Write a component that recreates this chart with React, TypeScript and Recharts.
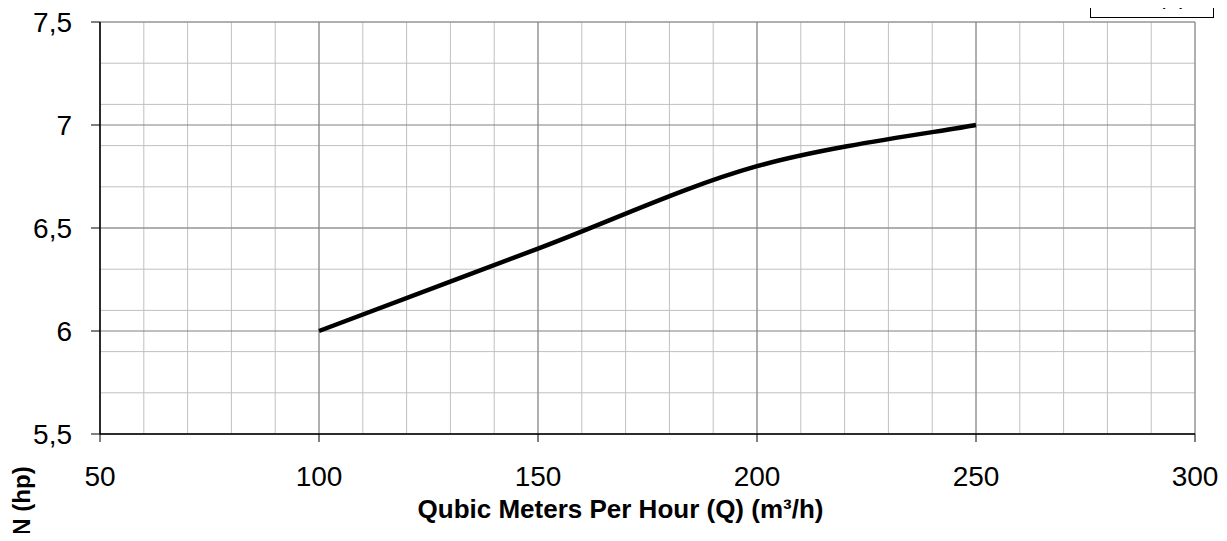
import { LineChart, Line, XAxis, YAxis, CartesianGrid } from "recharts";

// pump curve: shaft power vs flow
const flowRates = [100, 150, 200, 250];
const powerHp = [6.0, 6.4, 6.8, 7.0];

const xMajorTicks = [50, 100, 150, 200, 250, 300];
const xMinorTicks = [50, 60, 70, 80, 90, 100, 110, 120, 130, 140, 150, 160, 170, 180, 190, 200, 210, 220, 230, 240, 250, 260, 270, 280, 290, 300];
const yMajorTicks = [5.5, 6, 6.5, 7, 7.5];
const yMinorTicks = [5.5, 5.6, 5.7, 5.8, 5.9, 6, 6.1, 6.2, 6.3, 6.4, 6.5, 6.6, 6.7, 6.8, 6.9, 7, 7.1, 7.2, 7.3, 7.4, 7.5];

const data = flowRates.map((q, i) => ({ q, n: powerHp[i] }));

const FONT = "Arial, 'Liberation Sans', sans-serif";

const fmtComma = (v: number) => String(v).replace(".", ",");

// excel-style smoothed line (catmull-rom, control points at 1/6)
const excelSmooth = (context: any) => {
  let pts: number[][] = [];
  return {
    areaStart() {},
    areaEnd() {},
    lineStart() {
      pts = [];
    },
    point(x: number, y: number) {
      pts.push([+x, +y]);
    },
    lineEnd() {
      if (!pts.length) return;
      context.moveTo(pts[0][0], pts[0][1]);
      for (let i = 0; i < pts.length - 1; i++) {
        const p0 = pts[i - 1] || pts[i];
        const p1 = pts[i];
        const p2 = pts[i + 1];
        const p3 = pts[i + 2] || pts[i + 1];
        context.bezierCurveTo(
          p1[0] + (p2[0] - p0[0]) / 6,
          p1[1] + (p2[1] - p0[1]) / 6,
          p2[0] - (p3[0] - p1[0]) / 6,
          p2[1] - (p3[1] - p1[1]) / 6,
          p2[0],
          p2[1]
        );
      }
    },
  };
};

const XTitle = (props: any) => {
  const { viewBox } = props;
  return (
    <text
      x={viewBox.x + viewBox.width / 2 - 27}
      y={viewBox.y + 84}
      textAnchor="middle"
      fontFamily={FONT}
      fontWeight="bold"
      fontSize={26}
      fill="#000"
    >
      Qubic Meters Per Hour (Q) (m³/h)
    </text>
  );
};

const YTitle = (props: any) => {
  const { viewBox } = props;
  const x = 30;
  const y = viewBox.y + viewBox.height + 67;
  return (
    <text
      x={x}
      y={y}
      transform={`rotate(-90 ${x} ${y})`}
      textAnchor="middle"
      fontFamily={FONT}
      fontWeight="bold"
      fontSize={24}
      fill="#000"
    >
      N (hp)
    </text>
  );
};

export default function App() {
  return (
    <div style={{ position: "relative", margin: -8, width: 1227, height: 541, background: "#fff", overflow: "hidden" }}>
      <LineChart
        width={1227}
        height={541}
        data={data}
        margin={{ top: 22, right: 32, left: 0, bottom: 0 }}
      >
        <CartesianGrid
          verticalValues={xMinorTicks}
          horizontalValues={yMinorTicks}
          stroke="#c0c0c0"
          strokeWidth={1}
        />
        <CartesianGrid
          verticalValues={xMajorTicks}
          horizontalValues={yMajorTicks}
          stroke="#808080"
          strokeWidth={1}
        />

        <XAxis
          dataKey="q"
          type="number"
          domain={[50, 300]}
          ticks={xMajorTicks}
          height={107}
          axisLine={{ stroke: "#000", strokeWidth: 1.5 }}
          tickLine={{ stroke: "#000" }}
          tickSize={8}
          tickMargin={24}
          tick={{ fontSize: 28, fill: "#000", fontFamily: FONT }}
          label={<XTitle />}
        />
        <YAxis
          type="number"
          domain={[5.5, 7.5]}
          ticks={yMajorTicks}
          width={100}
          tickFormatter={fmtComma}
          axisLine={{ stroke: "#000", strokeWidth: 1.5 }}
          tickLine={{ stroke: "#000" }}
          tickSize={9}
          tickMargin={19}
          tick={{ fontSize: 28, fill: "#000", fontFamily: FONT }}
          label={<YTitle />}
        />

        <Line
          type={excelSmooth as any}
          dataKey="n"
          stroke="#000"
          strokeWidth={4.5}
          dot={false}
          isAnimationActive={false}
        />
      </LineChart>

      {/* legend box, mostly above the top edge */}
      <div
        style={{
          position: "absolute",
          left: 1090,
          top: -30,
          width: 124,
          height: 48,
          border: "1px solid #000",
          background: "#fff",
          boxSizing: "border-box",
          fontFamily: FONT,
        }}
      >
        <span
          style={{
            position: "absolute",
            right: 26,
            bottom: 9,
            fontSize: 24,
            lineHeight: 1,
          }}
        >
          (1)
        </span>
      </div>
    </div>
  );
}
